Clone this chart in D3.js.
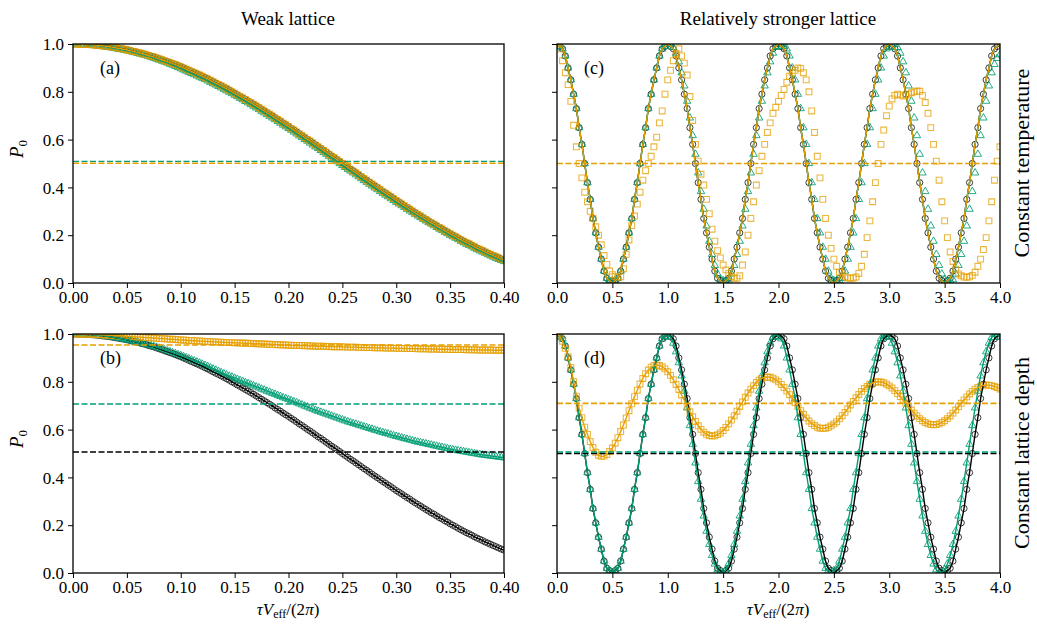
<!DOCTYPE html>
<html>
<head>
<meta charset="utf-8">
<script src="https://cdn.jsdelivr.net/npm/d3@7"></script>
<style>
	body { margin: 0; background: #fff; }
	svg text { font-family: "Liberation Serif", "Times New Roman", "DejaVu Serif", serif; fill: #000; }
</style>
</head>
<body>
<svg id="fig" width="1037" height="629"></svg>
<script>
// ---- data ----
// sample spacing of the simulation points (x = index * step)
var weakStep = 0.0025,
		strongStep = 0.025;

// weak lattice, tau*Veff/(2pi) in [0, 0.4]
var weakBlack = [
	1.000, 1.000, 1.000, .999, .999, .998, .998, .997, .996, .995,
	.994, .992, .991, .990, .988, .986, .984, .982, .980, .978,
	.976, .973, .970, .968, .965, .962, .959, .956, .952, .949,
	.946, .942, .938, .934, .930, .926, .922, .918, .914, .909,
	.905, .900, .895, .890, .885, .880, .875, .870, .865, .859,
	.854, .848, .842, .836, .831, .825, .819, .813, .807, .800,
	.794, .787, .781, .774, .768, .761, .755, .748, .741, .734,
	.727, .720, .713, .706, .699, .691, .684, .677, .669, .662,
	.655, .647, .640, .632, .624, .617, .609, .601, .594, .586,
	.578, .570, .563, .555, .547, .539, .531, .524, .516, .508,
	.500, .492, .484, .476, .469, .461, .453, .445, .437, .430,
	.422, .414, .406, .399, .391, .383, .376, .368, .361, .353,
	.345, .338, .331, .323, .316, .309, .301, .294, .287, .280,
	.273, .266, .259, .252, .246, .239, .232, .226, .219, .213,
	.206, .200, .194, .187, .181, .175, .169, .164, .158, .152,
	.146, .141, .136, .130, .125, .120, .115, .110, .105, .100,
	.096];
var weakGreenA = [
	1.000, 1.000, .999, .999, .998, .998, .997, .996, .995, .994,
	.992, .991, .989, .987, .985, .983, .981, .979, .977, .975,
	.972, .970, .967, .964, .961, .958, .955, .952, .948, .945,
	.941, .937, .933, .929, .925, .921, .916, .912, .907, .902,
	.897, .892, .887, .882, .877, .872, .867, .862, .857, .852,
	.846, .840, .834, .829, .823, .817, .811, .805, .799, .793,
	.786, .780, .773, .767, .760, .754, .747, .740, .733, .726,
	.719, .712, .705, .698, .691, .684, .676, .669, .661, .654,
	.647, .640, .632, .624, .616, .609, .601, .594, .586, .578,
	.570, .563, .555, .547, .539, .531, .523, .516, .508, .500,
	.492, .484, .476, .469, .461, .453, .445, .437, .429, .422,
	.414, .406, .398, .391, .383, .376, .368, .361, .353, .346,
	.338, .331, .324, .317, .309, .302, .295, .288, .281, .274,
	.267, .260, .253, .247, .240, .233, .226, .220, .213, .207,
	.200, .194, .188, .182, .175, .169, .163, .158, .152, .146,
	.140, .135, .130, .125, .119, .114, .109, .104, .099, .095,
	.090];
var weakGreenB = [
	1.000, 1.000, 1.000, 1.000, .999, .999, .998, .997, .996, .995,
	.994, .993, .991, .990, .988, .986, .984, .982, .980, .978,
	.976, .974, .971, .969, .966, .963, .960, .957, .954, .951,
	.948, .945, .941, .938, .934, .930, .926, .922, .918, .914,
	.910, .906, .901, .897, .892, .888, .883, .879, .874, .869,
	.864, .859, .854, .849, .844, .839, .834, .829, .824, .820,
	.815, .811, .806, .802, .797, .793, .788, .784, .779, .775,
	.770, .766, .761, .757, .752, .748, .743, .739, .734, .730,
	.726, .722, .717, .713, .708, .704, .699, .695, .690, .686,
	.681, .677, .673, .669, .665, .661, .657, .653, .649, .645,
	.641, .637, .633, .630, .626, .623, .619, .616, .612, .609,
	.605, .602, .598, .595, .591, .588, .585, .582, .578, .575,
	.572, .569, .566, .563, .560, .557, .554, .551, .548, .546,
	.543, .541, .538, .536, .533, .531, .528, .526, .523, .521,
	.518, .516, .514, .512, .510, .508, .506, .504, .502, .500,
	.498, .496, .494, .493, .491, .490, .488, .487, .485, .484,
	.482];
var weakOrangeB = [
	1.000, 1.000, 1.000, 1.000, .999, .999, .999, .999, .998, .998,
	.997, .997, .996, .996, .995, .994, .993, .993, .992, .991,
	.990, .990, .989, .988, .987, .987, .986, .985, .984, .984,
	.983, .982, .981, .981, .980, .979, .978, .978, .977, .976,
	.975, .975, .974, .973, .972, .972, .971, .971, .970, .969,
	.968, .968, .967, .967, .966, .966, .965, .965, .964, .964,
	.963, .963, .962, .962, .961, .961, .960, .960, .959, .959,
	.958, .958, .957, .957, .956, .956, .955, .955, .954, .954,
	.953, .953, .952, .952, .952, .952, .951, .951, .950, .950,
	.949, .949, .949, .949, .948, .948, .947, .947, .947, .947,
	.946, .946, .945, .945, .945, .945, .944, .944, .943, .943,
	.943, .943, .942, .942, .942, .942, .941, .941, .941, .941,
	.940, .940, .940, .940, .939, .939, .939, .939, .938, .938,
	.938, .938, .937, .937, .937, .937, .936, .936, .936, .936,
	.935, .935, .935, .935, .935, .935, .934, .934, .934, .934,
	.933, .933, .933, .933, .933, .933, .932, .932, .932, .932,
	.932];

// relatively stronger lattice, tau*Veff/(2pi) in [0, 4]
var strongBlack = [
	1, .99, .98, .95, .9, .85, .79, .73, .65, .58, .5, .42, .35, .27, .21, .15, .1, .05, .02, .01,
	0, .01, .02, .05, .1, .15, .21, .27, .35, .42, .5, .58, .65, .73, .79, .85, .9, .95, .98, .99,
	1, .99, .98, .95, .9, .85, .79, .73, .65, .58, .5, .42, .35, .27, .21, .15, .1, .05, .02, .01,
	0, .01, .02, .05, .1, .15, .21, .27, .35, .42, .5, .58, .65, .73, .79, .85, .9, .95, .98, .99,
	1, .99, .98, .95, .9, .85, .79, .73, .65, .58, .5, .42, .35, .27, .21, .15, .1, .05, .02, .01,
	0, .01, .02, .05, .1, .15, .21, .27, .35, .42, .5, .58, .65, .73, .79, .85, .9, .95, .98, .99,
	1, .99, .98, .95, .9, .85, .79, .73, .65, .58, .5, .42, .35, .27, .21, .15, .1, .05, .02, .01,
	0, .01, .02, .05, .1, .15, .21, .27, .35, .42, .5, .58, .65, .73, .79, .85, .9, .95, .98, .99,
	1];
var strongGreenC = [
	1, .99, .98, .95, .9, .85, .79, .73, .65, .58, .5, .42, .35, .27, .21, .15, .1, .05, .02, .01,
	.01, .01, .02, .05, .1, .15, .21, .27, .35, .42, .5, .58, .65, .73, .79, .85, .9, .95, .98, .99,
	.998, .998, .986, .962, .926, .880, .825, .761, .691, .617, .539, .461, .383, .309, .239, .175, .120, .074, .038, .014,
	.01, .01, .014, .038, .074, .120, .175, .239, .309, .383, .461, .539, .617, .691, .761, .825, .880, .926, .962, .986,
	.99, 1, .99, .98, .95, .9, .85, .79, .73, .65, .58, .5, .42, .35, .27, .21, .15, .1, .05, .02,
	.01, .01, .01, .02, .05, .1, .15, .21, .27, .35, .42, .5, .58, .65, .73, .79, .85, .9, .95, .98,
	.986, .998, .998, .986, .962, .926, .880, .825, .761, .691, .617, .539, .461, .383, .309, .239, .175, .120, .074, .038,
	.014, .01, .01, .014, .038, .074, .120, .175, .239, .309, .383, .461, .539, .617, .691, .761, .825, .880, .915, .94,
	.955];
var strongOrangeC = [
	1, .98, .93, .88, .83, .76, .66, .57, .50, .44, .38, .34, .30, .27, .235, .20, .16, .115, .078, .05,
	.035, .027, .024, .026, .06, .12, .18, .24, .28, .33, .38, .43, .47, .50, .53, .57, .61, .67, .72, .79,
	.85, .89, .93, .96, .98, .95, .92, .87, .78, .68, .58, .51, .455, .41, .35, .29, .225, .175, .135, .105,
	.075, .055, .04, .027, .02, .02, .03, .075, .13, .20, .27, .34, .41, .47, .53, .58, .63, .67, .71, .735,
	.76, .785, .81, .84, .865, .88, .89, .90, .898, .88, .85, .80, .72, .63, .53, .44, .35, .27, .20, .145,
	.10, .07, .045, .033, .026, .021, .02, .021, .025, .04, .07, .12, .19, .26, .34, .42, .50, .58, .64, .70,
	.74, .77, .785, .79, .787, .782, .785, .79, .796, .80, .803, .802, .785, .755, .71, .65, .58, .51, .43, .34,
	.26, .19, .13, .09, .058, .038, .03, .025, .024, .026, .032, .045, .07, .10, .14, .19, .26, .34, .43, .51,
	.57];
var strongGreenD = [
	1, .99, .98, .95, .9, .85, .79, .73, .65, .58, .5, .42, .35, .27, .21, .15, .1, .05, .02, .01,
	0, .01, .02, .05, .1, .15, .21, .27, .35, .42, .5, .58, .65, .73, .79, .85, .9, .95, .98, .99,
	.998, .986, .962, .926, .880, .825, .761, .691, .617, .539, .461, .383, .309, .239, .175, .120, .074, .038, .014, .002,
	.002, .014, .038, .074, .120, .175, .239, .309, .383, .461, .539, .617, .691, .761, .825, .880, .926, .962, .986, .998,
	.99, .98, .95, .9, .85, .79, .73, .65, .58, .5, .42, .35, .27, .21, .15, .1, .05, .02, .01, 0,
	.01, .02, .05, .1, .15, .21, .27, .35, .42, .5, .58, .65, .73, .79, .85, .9, .95, .98, .99, 1,
	.986, .962, .926, .880, .825, .761, .691, .617, .539, .461, .383, .309, .239, .175, .120, .074, .038, .014, .002, .002,
	.014, .038, .074, .120, .175, .239, .309, .383, .461, .539, .617, .691, .761, .825, .880, .926, .962, .986, .998, .998,
	.986];
var strongOrangeD = [
	1, .99, .97, .94, .905, .86, .80, .74, .69, .65, .61, .58, .55, .525, .505, .493, .488, .489, .496, .508,
	.523, .543, .566, .592, .619, .649, .679, .708, .738, .765, .791, .814, .834, .849, .861, .868, .870, .868, .863, .854,
	.842, .827, .809, .789, .768, .745, .722, .698, .675, .654, .634, .616, .601, .589, .580, .575, .573, .574, .579, .586,
	.596, .609, .624, .640, .658, .677, .697, .716, .735, .753, .769, .784, .797, .807, .814, .819, .820, .819, .815, .808,
	.800, .789, .776, .761, .746, .729, .713, .696, .679, .664, .649, .636, .625, .617, .610, .606, .605, .606, .610, .616,
	.624, .633, .645, .658, .672, .687, .703, .718, .733, .747, .760, .772, .781, .789, .795, .799, .800, .799, .796, .790,
	.783, .774, .763, .751, .738, .724, .710, .696, .682, .669, .657, .646, .637, .630, .624, .621, .620, .621, .624, .630,
	.637, .646, .657, .669, .682, .696, .710, .724, .737, .749, .760, .769, .776, .782, .785, .787, .786, .784, .780, .776,
	.770];

// long-time averages (dashed), order: black, green, orange
var dashA = [0.509, 0.509, 0.501],
		dashB = [0.506, 0.707, 0.954],
		dashC = [0.500, 0.500, 0.500],
		dashD = [0.500, 0.506, 0.710];

var weakTicks = [0, 0.05, 0.1, 0.15, 0.2, 0.25, 0.3, 0.35, 0.4],
		strongTicks = [0, 0.5, 1, 1.5, 2, 2.5, 3, 3.5, 4],
		yTicks = [0, 0.2, 0.4, 0.6, 0.8, 1];

var black = "#000000",
		green = "#009E73",
		orange = "#E69F00";

// ---- layout ----
var svg = d3.select("#fig");
var fontSize = 17;

var panels = [
	{tag: "(a)", left: 73, right: 504, top: 44, bottom: 283, xmax: 0.4, step: weakStep, ticks: weakTicks, fmt: d3.format(".2f"), yLabels: true,
		marks: [weakBlack, weakGreenA, weakBlack], lines: [weakBlack, weakGreenA, weakBlack], dash: dashA},
	{tag: "(c)", left: 557, right: 1000, top: 44, bottom: 283, xmax: 4, step: strongStep, ticks: strongTicks, fmt: d3.format(".1f"), yLabels: false,
		marks: [strongBlack, strongGreenC, strongOrangeC], lines: [strongBlack, strongBlack, strongBlack], dash: dashC},
	{tag: "(b)", left: 73, right: 504, top: 334, bottom: 573, xmax: 0.4, step: weakStep, ticks: weakTicks, fmt: d3.format(".2f"), yLabels: true,
		marks: [weakBlack, weakGreenB, weakOrangeB], lines: [weakBlack, weakGreenB, weakOrangeB], dash: dashB},
	{tag: "(d)", left: 557, right: 1000, top: 334, bottom: 573, xmax: 4, step: strongStep, ticks: strongTicks, fmt: d3.format(".1f"), yLabels: false,
		marks: [strongBlack, strongGreenD, strongOrangeD], lines: [strongBlack, strongGreenD, strongOrangeD], dash: dashD}
];

var colors = [black, green, orange];
var dashWidths = [1.4, 1.4, 1.7];
var triangle = d3.symbol().type(d3.symbolTriangle).size(24)();
var square = d3.symbol().type(d3.symbolSquare).size(34)();

panels.forEach(function(p, pi) {
	var x = d3.scaleLinear().domain([0, p.xmax]).range([p.left, p.right]);
	var y = d3.scaleLinear().domain([0, 1]).range([p.bottom, p.top]);
	var g = svg.append("g").attr("class", "panel");

	svg.append("clipPath").attr("id", "clip" + pi)
		.append("rect")
			.attr("x", p.left).attr("y", p.top)
			.attr("width", p.right - p.left).attr("height", p.bottom - p.top);

	var body = g.append("g").attr("clip-path", "url(#clip" + pi + ")");

	// simulation markers
	body.append("g").selectAll("circle")
		.data(p.marks[0])
		.enter().append("circle")
			.attr("cx", function(d, i) { return x(i * p.step); })
			.attr("cy", function(d) { return y(d); })
			.attr("r", 3.1)
			.style("fill", "none")
			.style("stroke", black)
			.style("stroke-width", 0.9)
			.style("stroke-opacity", 0.85);

	body.append("g").selectAll("path")
		.data(p.marks[1])
		.enter().append("path")
			.attr("d", triangle)
			.attr("transform", function(d, i) { return "translate(" + x(i * p.step) + "," + y(d) + ")"; })
			.style("fill", "none")
			.style("stroke", green)
			.style("stroke-width", 1)
			.style("stroke-opacity", 0.85);

	body.append("g").selectAll("path")
		.data(p.marks[2])
		.enter().append("path")
			.attr("d", square)
			.attr("transform", function(d, i) { return "translate(" + x(i * p.step) + "," + y(d) + ")"; })
			.style("fill", "none")
			.style("stroke", orange)
			.style("stroke-width", 1.1)
			.style("stroke-opacity", 0.75);

	// theory lines
	var line = d3.line()
		.x(function(d, i) { return x(i * p.step); })
		.y(function(d) { return y(d); })
		.curve(d3.curveMonotoneX);

	p.lines.forEach(function(series, si) {
		body.append("path")
			.datum(series)
			.attr("d", line)
			.style("fill", "none")
			.style("stroke", colors[si])
			.style("stroke-width", 1.4);
	});

	// long-time averages; a line hidden under a later one at the same level is skipped
	var avg = p.dash.map(function(d, i) { return {value: d, color: colors[i], width: dashWidths[i]}; })
		.filter(function(d, i) {
			return p.dash.slice(i + 1).every(function(v) { return Math.abs(v - d.value) > 0.002; });
		});

	body.selectAll(".avg")
		.data(avg)
		.enter().append("line")
			.attr("class", "avg")
			.attr("x1", p.left).attr("x2", p.right)
			.attr("y1", function(d) { return y(d.value); })
			.attr("y2", function(d) { return y(d.value); })
			.style("stroke", function(d) { return d.color; })
			.style("stroke-width", function(d) { return d.width; })
			.style("stroke-dasharray", "6,2.5");

	// axes
	var xAxis = d3.axisBottom(x).tickValues(p.ticks).tickFormat(p.fmt).tickSize(5).tickPadding(3);
	var yAxis = d3.axisLeft(y).tickValues(yTicks).tickFormat(p.yLabels ? d3.format(".1f") : "").tickSize(5).tickPadding(4);

	var gx = g.append("g").attr("transform", "translate(0," + p.bottom + ")").call(xAxis);
	var gy = g.append("g").attr("transform", "translate(" + p.left + ",0)").call(yAxis);
	[gx, gy].forEach(function(ax) {
		ax.attr("font-family", null);
		ax.select(".domain").remove();
		ax.selectAll("line").style("stroke", "#000").style("stroke-width", 1);
		ax.selectAll("text")
			.style("font-size", fontSize + "px")
			.style("fill", "#000");
	});
	gy.selectAll("text").attr("dy", "0.34em");

	g.append("rect")
		.attr("x", p.left).attr("y", p.top)
		.attr("width", p.right - p.left).attr("height", p.bottom - p.top)
		.style("fill", "none")
		.style("stroke", "#000")
		.style("stroke-width", 1.3);

	g.append("text")
		.attr("x", p.left + 27).attr("y", p.top + 30)
		.style("font-size", "18px")
		.text(p.tag);
});

// ---- labels ----
svg.append("text").attr("x", 288).attr("y", 25).attr("text-anchor", "middle")
	.style("font-size", "19px").text("Weak lattice");
svg.append("text").attr("x", 778).attr("y", 25).attr("text-anchor", "middle")
	.style("font-size", "19px").text("Relatively stronger lattice");

[163, 453].forEach(function(cy, i) {
	svg.append("text")
		.attr("transform", "translate(1029," + cy + ") rotate(-90)")
		.attr("text-anchor", "middle")
		.style("font-size", "22px")
		.text(i === 0 ? "Constant temperature" : "Constant lattice depth");

	var yl = svg.append("text")
		.attr("transform", "translate(23," + (cy - 14) + ") rotate(-90)")
		.attr("text-anchor", "middle")
		.style("font-size", "19px");
	yl.append("tspan").style("font-style", "italic").text("P");
	yl.append("tspan").attr("dy", 4).style("font-size", "13px").text("0");
});

[288, 778].forEach(function(cx) {
	var xl = svg.append("text")
		.attr("x", cx).attr("y", 615)
		.attr("text-anchor", "middle")
		.style("font-size", "17px");
	xl.append("tspan").style("font-style", "italic").text("τV");
	xl.append("tspan").attr("dy", 3).style("font-size", "12px").text("eff");
	xl.append("tspan").attr("dy", -3).text("/(2");
	xl.append("tspan").style("font-style", "italic").text("π");
	xl.append("tspan").text(")");
});
</script>
</body>
</html>
